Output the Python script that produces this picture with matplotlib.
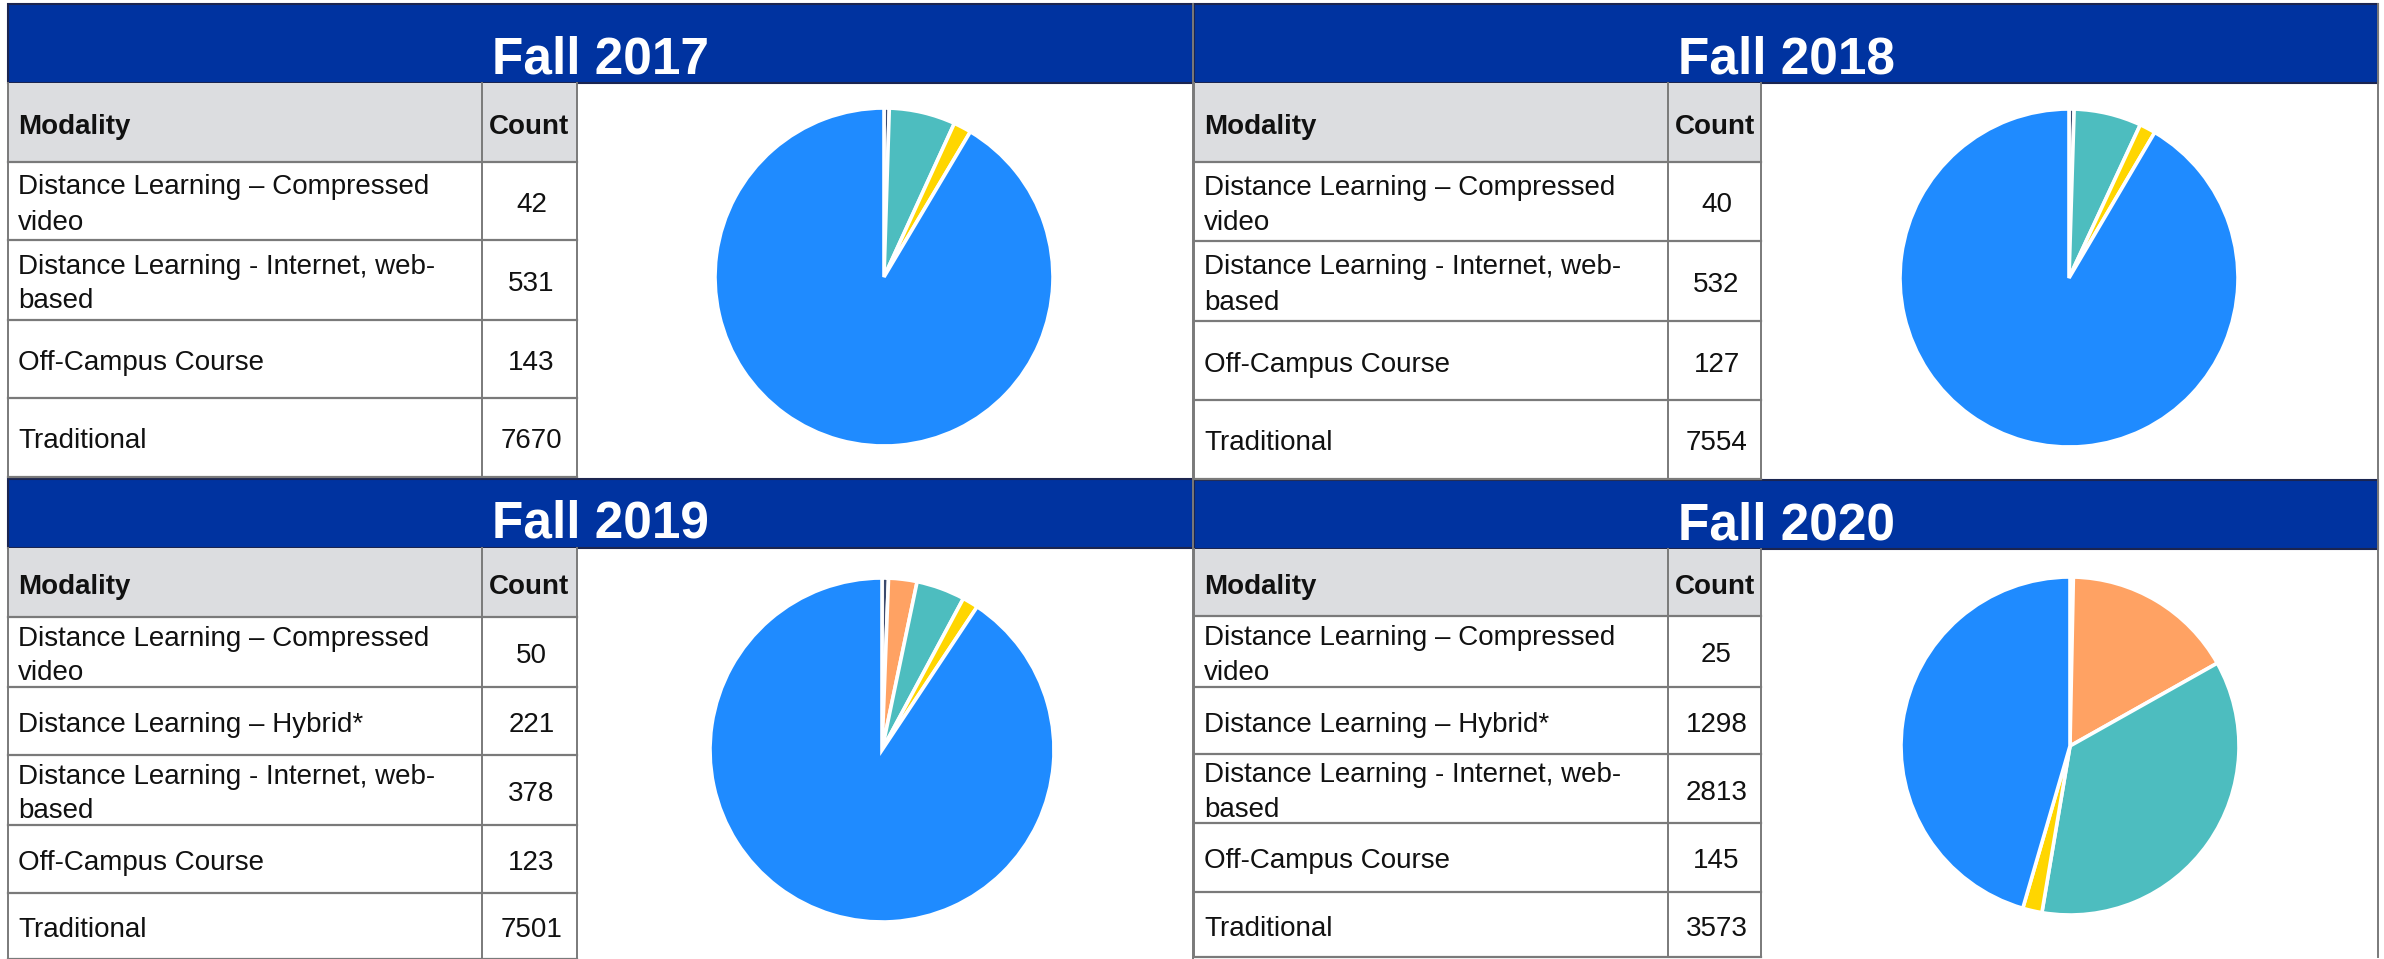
import matplotlib.pyplot as plt
from matplotlib.patches import Rectangle

plt.rcParams['font.family'] = ['Liberation Sans', 'DejaVu Sans']

W, H = 2384, 959

titles = ["Fall 2017", "Fall 2018", "Fall 2019", "Fall 2020"]

modalities_2017 = ["Distance Learning – Compressed\nvideo",
                   "Distance Learning - Internet, web-\nbased",
                   "Off-Campus Course",
                   "Traditional"]
counts_2017 = [42, 531, 143, 7670]

modalities_2018 = modalities_2017
counts_2018 = [40, 532, 127, 7554]

modalities_2019 = ["Distance Learning – Compressed\nvideo",
                   "Distance Learning – Hybrid*",
                   "Distance Learning - Internet, web-\nbased",
                   "Off-Campus Course",
                   "Traditional"]
counts_2019 = [50, 221, 378, 123, 7501]

modalities_2020 = modalities_2019
counts_2020 = [25, 1298, 2813, 145, 3573]

colours = {
    "Compressed": "#3b4a6e",
    "Hybrid": "#ffa263",
    "Internet": "#4dbdbf",
    "Off-Campus": "#ffd600",
    "Traditional": "#1f8bff",
}


def colour_for(label):
    for k, c in colours.items():
        if k in label:
            return c
    return "#999999"


# pixel layout of the four panels
panels = [
    dict(x0=8, x1=482, x2=577, x3=1193, top=4, head=83, gray=162,
         rows=[162, 240, 320, 398, 477], pie=(884, 277, 169)),
    dict(x0=1194, x1=1668, x2=1761, x3=2378, top=4, head=83, gray=162,
         rows=[162, 241, 321, 400, 479], pie=(2069, 278, 169)),
    dict(x0=8, x1=482, x2=577, x3=1193, top=479, head=548, gray=617,
         rows=[617, 687, 755, 825, 893, 959], pie=(882, 750, 172)),
    dict(x0=1194, x1=1668, x2=1761, x3=2378, top=480, head=549, gray=616,
         rows=[616, 687, 754, 823, 892, 957], pie=(2070, 746, 169)),
]

data = [(modalities_2017, counts_2017), (modalities_2018, counts_2018),
        (modalities_2019, counts_2019), (modalities_2020, counts_2020)]

fig = plt.figure(figsize=(W / 100, H / 100), dpi=100)
ax = fig.add_axes([0, 0, 1, 1])
ax.set_xlim(0, W)
ax.set_ylim(H, 0)
ax.axis('off')

line_c = "#7a7a7a"

for p, title, (mods, counts) in zip(panels, titles, data):
    x0, x1, x2, x3 = p['x0'], p['x1'], p['x2'], p['x3']
    # header band
    ax.add_patch(Rectangle((x0, p['top']), x3 - x0, p['head'] - p['top'],
                           facecolor="#0033a0", edgecolor="#1b2550", lw=1.5))
    ax.text((x0 + x3) / 2, p['head'] - 10, title, color="white", fontsize=37,
            fontweight='bold', ha='center', va='baseline')
    # grey column header
    ax.add_patch(Rectangle((x0, p['head']), x2 - x0, p['gray'] - p['head'],
                           facecolor="#dcdde0", edgecolor="none"))
    ymid = (p['head'] + p['gray']) / 2 + 4
    ax.text(x0 + 10, ymid, "Modality", fontsize=20, fontweight='bold',
            ha='left', va='center', color="#111111")
    ax.text((x1 + x2) / 2, ymid, "Count", fontsize=20, fontweight='bold',
            ha='center', va='center', color="#111111")
    # grid lines
    rows = p['rows']
    for y in rows:
        ax.plot([x0, x2], [y, y], color=line_c, lw=1.6)
    for x in (x0, x1, x2):
        ax.plot([x, x], [p['head'], rows[-1]], color=line_c, lw=1.4)
    ax.plot([x3, x3], [p['top'], rows[-1]], color=line_c, lw=1.4)
    # table body
    for i, (m, c) in enumerate(zip(mods, counts)):
        yc = (rows[i] + rows[i + 1]) / 2 + 4
        ax.text(x0 + 10, yc, m, fontsize=20, ha='left', va='center',
                linespacing=1.45, color="#111111")
        ax.text((x1 + x2) / 2 + 2, yc, str(c), fontsize=20, ha='center',
                va='center', color="#111111")
    # pie
    cx, cy, r = p['pie']
    pax = fig.add_axes([(cx - r) / W, 1 - (cy + r) / H, 2 * r / W, 2 * r / H])
    pax.pie(counts, colors=[colour_for(m) for m in mods], startangle=90,
            counterclock=False,
            wedgeprops=dict(edgecolor="white", linewidth=2.6))
    pax.set_xlim(-1, 1)
    pax.set_ylim(-1, 1)
    pax.set_aspect('equal')

fig.savefig("out.png", dpi=100, facecolor="white")
